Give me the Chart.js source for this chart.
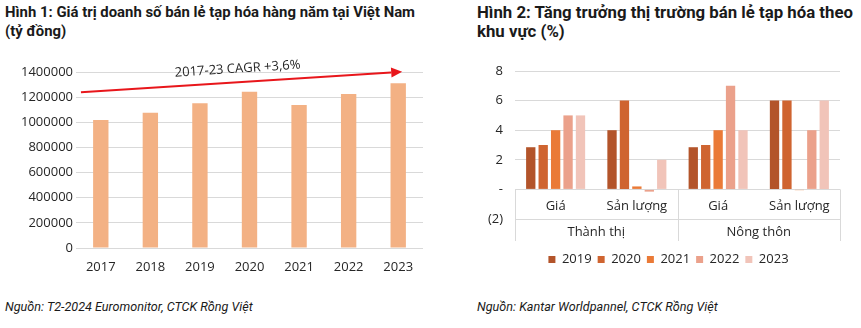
<!DOCTYPE html>
<html>
<head>
<meta charset="utf-8">
<script src="https://cdn.jsdelivr.net/npm/chart.js@4.4.1/dist/chart.umd.min.js"></script>
<style>
    body { margin: 0; background: #fff; width: 861px; height: 328px; position: relative; overflow: hidden; color: #1a1a1a; }
    .title { position: absolute; top: 3px; font-family: 'Roboto', sans-serif; font-weight: bold; font-size: 16.8px; line-height: 19px; }
    .note { position: absolute; top: 299px; font-family: 'Roboto', sans-serif; font-style: italic; font-size: 12.6px; }
    #box1 { position: absolute; left: 0; top: 50px; width: 430px; height: 232px; }
    #box2 { position: absolute; left: 477px; top: 50px; width: 384px; height: 226px; }
</style>
</head>
<body>
<div class="title" style="left:5px; font-size:14.9px;">Hình 1: Giá trị doanh số bán lẻ tạp hóa hàng năm tại Việt Nam<br>(tỷ đồng)</div>
<div class="title" style="left:477px;">Hình 2: Tăng trưởng thị trường bán lẻ tạp hóa theo<br>khu vực (%)</div>
<div id="box1"><canvas id="salesChart"></canvas></div>
<div id="box2"><canvas id="growthChart"></canvas></div>
<div class="note" style="left:5px;">Nguồn: T2-2024 Euromonitor, CTCK Rồng Việt</div>
<div class="note" style="left:477px;">Nguồn: Kantar Worldpannel, CTCK Rồng Việt</div>

<script>
// Hinh 1 - doanh so ban le tap hoa (ty dong)
var years = ['2017', '2018', '2019', '2020', '2021', '2022', '2023'];
var sales = [1018000, 1076000, 1151000, 1243000, 1137000, 1225000, 1310000];
var salesTicks = [0, 200000, 400000, 600000, 800000, 1000000, 1200000, 1400000];
var cagrLabel = '2017-23 CAGR +3,6%';
var cagrFrom = [-0.4, 1238000];   // [category index, value]
var cagrTo = [6.08, 1402000];
var cagrText = [2.76, 1424000];

// Hinh 2 - tang truong theo khu vuc (%)
var subCategories = ['Giá', 'Sản lượng', 'Giá', 'Sản lượng'];
var regions = ['Thành thị', 'Nông thôn'];
var seriesNames = ['2019', '2020', '2021', '2022', '2023'];
var g2019 = [2.85, 4.0, 2.85, 6.0];
var g2020 = [3.0, 6.0, 3.0, 6.0];
var g2021 = [4.0, 0.2, 4.0, -0.05];
var g2022 = [5.0, -0.15, 7.0, 4.0];
var g2023 = [5.0, 2.0, 4.0, 6.0];
var growthTicks = [-2, 0, 2, 4, 6, 8];

var chartFont = "'Open Sans', 'Noto Sans', sans-serif";
var textColor = '#262626';
var gridColor = '#d9d9d9';

Chart.defaults.font.family = chartFont;
Chart.defaults.color = textColor;
Chart.defaults.animation = false;

//-------------
//- BAR CHART 1 -
//-------------
var cagrArrow = {
    id: 'cagrArrow',
    afterDatasetsDraw: function (chart) {
        var xs = chart.scales.x, ys = chart.scales.y, ctx = chart.ctx;
        var x0 = xs.getPixelForValue(cagrFrom[0]), y0 = ys.getPixelForValue(cagrFrom[1]);
        var x1 = xs.getPixelForValue(cagrTo[0]), y1 = ys.getPixelForValue(cagrTo[1]);
        var ang = Math.atan2(y1 - y0, x1 - x0);
        var head = 11;
        ctx.save();
        ctx.strokeStyle = '#e8161b';
        ctx.fillStyle = '#e8161b';
        ctx.lineWidth = 2;
        ctx.beginPath();
        ctx.moveTo(x0, y0);
        ctx.lineTo(x1 - head * Math.cos(ang), y1 - head * Math.sin(ang));
        ctx.stroke();
        ctx.beginPath();
        ctx.moveTo(x1, y1);
        ctx.lineTo(x1 - head * Math.cos(ang) + 5 * Math.sin(ang), y1 - head * Math.sin(ang) - 5 * Math.cos(ang));
        ctx.lineTo(x1 - head * Math.cos(ang) - 5 * Math.sin(ang), y1 - head * Math.sin(ang) + 5 * Math.cos(ang));
        ctx.closePath();
        ctx.fill();
        // label along the arrow
        var tx = xs.getPixelForValue(cagrText[0]), ty = ys.getPixelForValue(cagrText[1]);
        ctx.translate(tx, ty);
        ctx.rotate(ang);
        ctx.fillStyle = textColor;
        ctx.font = "13px " + chartFont;
        ctx.textAlign = 'center';
        ctx.textBaseline = 'middle';
        ctx.fillText(cagrLabel, 0, 0);
        ctx.restore();
    }
};

new Chart(document.getElementById('salesChart'), {
    type: 'bar',
    data: {
        labels: years,
        datasets: [{
            label: 'Doanh số',
            data: sales,
            backgroundColor: '#f3b184',
            barPercentage: 0.31,
            categoryPercentage: 1
        }]
    },
    options: {
        responsive: true,
        maintainAspectRatio: false,
        layout: { padding: { top: 22, right: 7, left: 0, bottom: 0 } },
        plugins: { legend: { display: false }, tooltip: { enabled: false } },
        scales: {
            x: {
                grid: { display: false },
                border: { display: false },
                ticks: { font: { size: 13 }, padding: 3, maxRotation: 0 },
                afterFit: function (scale) { scale.height = 34; }
            },
            y: {
                min: 0,
                max: 1400000,
                afterBuildTicks: function (scale) {
                    scale.ticks = salesTicks.map(function (v) { return { value: v }; });
                },
                grid: { color: gridColor, drawTicks: false },
                border: { display: false },
                ticks: {
                    font: { size: 13 },
                    padding: 3,
                    callback: function (v) { return String(v); }
                },
                afterFit: function (scale) { scale.width = 76; }
            }
        }
    },
    plugins: [cagrArrow]
});

//-------------
//- BAR CHART 2 -
//-------------
var categoryTable = {
    id: 'categoryTable',
    afterLayout: function (chart) {
        // legend sits a little left of the plot centre
        chart.legend.left -= 9;
        chart.legend.right -= 9;
    },
    afterDraw: function (chart) {
        var xs = chart.scales.x, ys = chart.scales.y, ctx = chart.ctx;
        var area = chart.chartArea;
        var zeroY = ys.getPixelForValue(0);
        var rowY = ys.getPixelForValue(growthTicks[0]);
        var bottomY = rowY + 22;
        var midX = (xs.getPixelForValue(1) + xs.getPixelForValue(2)) / 2;
        ctx.save();
        ctx.strokeStyle = gridColor;
        ctx.lineWidth = 1;
        ctx.beginPath();
        [area.left, midX, area.right].forEach(function (x) {
            ctx.moveTo(Math.round(x) + 0.5, zeroY);
            ctx.lineTo(Math.round(x) + 0.5, bottomY);
        });
        ctx.stroke();
        ctx.fillStyle = textColor;
        ctx.font = "13px " + chartFont;
        ctx.textAlign = 'center';
        ctx.textBaseline = 'middle';
        subCategories.forEach(function (lab, i) {
            ctx.fillText(lab, xs.getPixelForValue(i), (zeroY + rowY) / 2 + 2);
        });
        regions.forEach(function (lab, i) {
            var cx = (xs.getPixelForValue(i * 2) + xs.getPixelForValue(i * 2 + 1)) / 2;
            ctx.fillText(lab, cx, (rowY + bottomY) / 2 + 2);
        });
        ctx.restore();
    }
};

var seriesColors = ['#b3542a', '#cf6430', '#ea7a37', '#eba18b', '#f1c4b9'];
var seriesData = [g2019, g2020, g2021, g2022, g2023];

new Chart(document.getElementById('growthChart'), {
    type: 'bar',
    data: {
        labels: subCategories.map(function (s, i) { return regions[Math.floor(i / 2)] + ' - ' + s; }),
        datasets: seriesNames.map(function (name, i) {
            return {
                label: name,
                data: seriesData[i],
                backgroundColor: seriesColors[i],
                barPercentage: 0.75,
                categoryPercentage: 0.765
            };
        })
    },
    options: {
        responsive: true,
        maintainAspectRatio: false,
        layout: { padding: { top: 21, right: 21, left: 0, bottom: 0 } },
        plugins: {
            tooltip: { enabled: false },
            legend: {
                position: 'bottom',
                fullSize: false,
                labels: {
                    boxWidth: 7,
                    boxHeight: 7,
                    padding: 6,
                    font: { size: 13 },
                    color: textColor
                }
            }
        },
        scales: {
            // room for the two label rows under the zero line
            x: {
                grid: { display: false },
                border: { display: false },
                ticks: { display: false },
                afterFit: function (scale) { scale.height = 28; }
            },
            y: {
                min: -2,
                max: 8,
                afterBuildTicks: function (scale) {
                    scale.ticks = growthTicks.map(function (v) { return { value: v }; });
                },
                grid: { color: gridColor, drawTicks: false },
                border: { display: false },
                ticks: {
                    font: { size: 13 },
                    padding: 12,
                    callback: function (v) {
                        if (v === 0) return '-';
                        if (v < 0) return '(' + (-v) + ')';
                        return v;
                    }
                },
                afterFit: function (scale) { scale.width = 38; }
            }
        }
    },
    plugins: [categoryTable]
});
</script>
</body>
</html>
